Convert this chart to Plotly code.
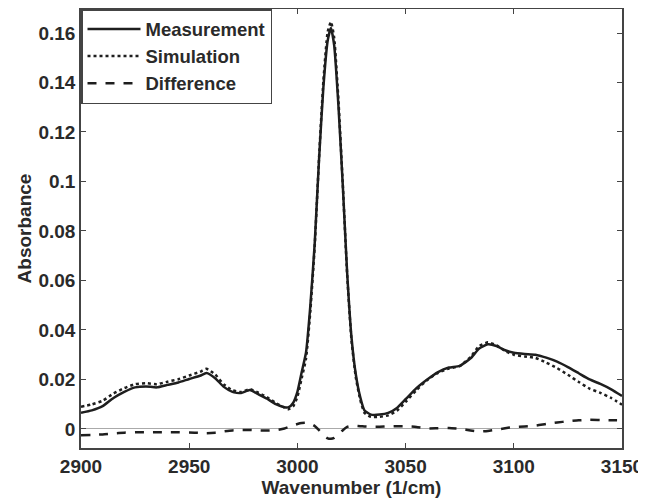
"""FTIR absorbance: measured vs simulated spectrum and their difference."""

import plotly.graph_objects as go

# wavenumber grid (1/cm)
wavenumber = [2900, 2905, 2910, 2915, 2920, 2925, 2930, 2935, 2940, 2945, 2950, 2955, 2958,
              2962, 2966, 2970, 2974, 2978, 2982, 2986, 2990, 2994, 2996, 2998, 3000, 3002,
              3004, 3006, 3008, 3010, 3012, 3014, 3015.5, 3017, 3019, 3021, 3023, 3025, 3027,
              3029, 3031, 3034, 3038, 3042, 3046, 3050, 3055, 3060, 3065, 3070, 3075, 3080,
              3084, 3088, 3092, 3096, 3100, 3105, 3110, 3115, 3120, 3125, 3130, 3135, 3140,
              3145, 3150]

measurement = [0.0065, 0.0075, 0.0092, 0.0125, 0.0150, 0.0168, 0.0172, 0.0168, 0.0178, 0.0188,
               0.0202, 0.0215, 0.0226, 0.0205, 0.0170, 0.0150, 0.0145, 0.0157, 0.0140, 0.0122,
               0.0100, 0.0088, 0.0088, 0.0105, 0.0150, 0.0230, 0.0310, 0.050, 0.075, 0.109,
               0.138, 0.157, 0.162, 0.155, 0.130, 0.098, 0.063, 0.037, 0.022, 0.013, 0.0075,
               0.0058, 0.0058, 0.0065, 0.0085, 0.0120, 0.0165, 0.0200, 0.0230, 0.0248, 0.0255,
               0.0285, 0.0325, 0.0342, 0.0335, 0.0318, 0.0308, 0.0303, 0.0300, 0.0288, 0.0272,
               0.0250, 0.0225, 0.0200, 0.0182, 0.0160, 0.0133]

simulation = [0.0090, 0.0099, 0.0114, 0.0143, 0.0165, 0.0181, 0.0185, 0.0181, 0.0191, 0.0201,
              0.0216, 0.0231, 0.0243, 0.0220, 0.0180, 0.0156, 0.0149, 0.0161, 0.0146, 0.0128,
              0.0105, 0.0086, 0.0080, 0.0091, 0.0130, 0.0206, 0.0285, 0.0478, 0.0738, 0.1095,
              0.1405, 0.1605, 0.1645, 0.1580, 0.1322, 0.0985, 0.0622, 0.0358, 0.0208, 0.0119,
              0.0065, 0.0049, 0.0049, 0.0055, 0.0074, 0.0109, 0.0157, 0.0198, 0.0227, 0.0244,
              0.0254, 0.0291, 0.0335, 0.0350, 0.0338, 0.0315, 0.0300, 0.0293, 0.0287, 0.0268,
              0.0246, 0.0219, 0.0190, 0.0163, 0.0146, 0.0125, 0.0098]

difference = [-0.0025, -0.0024, -0.0022, -0.0018, -0.0015, -0.0013, -0.0013, -0.0013, -0.0013,
              -0.0013, -0.0014, -0.0016, -0.0017, -0.0015, -0.0010, -0.0006, -0.0004, -0.0004,
              -0.0006, -0.0006, -0.0005, 0.0002, 0.0008, 0.0014, 0.0020, 0.0024, 0.0025, 0.0022,
              0.0012, -0.0005, -0.0025, -0.0038, -0.0040, -0.0036, -0.0022, -0.0005, 0.0008,
              0.0012, 0.0012, 0.0011, 0.0010, 0.0009, 0.0009, 0.0010, 0.0011, 0.0011, 0.0008,
              0.0002, 0.0003, 0.0004, 0.0001, -0.0006, -0.0010, -0.0008, -0.0003, 0.0003, 0.0008,
              0.0010, 0.0013, 0.0020, 0.0026, 0.0031, 0.0035, 0.0037, 0.0036, 0.0035, 0.0035]

x_ticks = [2900, 2950, 3000, 3050, 3100, 3150]
y_ticks = [0, 0.02, 0.04, 0.06, 0.08, 0.1, 0.12, 0.14, 0.16]
y_tick_text = ["0", "0.02", "0.04", "0.06", "0.08", "0.1", "0.12", "0.14", "0.16"]

INK = "#1e1e1e"
FONT = dict(family="Liberation Sans, Arial, sans-serif", size=19, color="#2a2a2a", weight="bold")
LEGEND_FONT = dict(FONT, size=18.5)

fig = go.Figure()
series = [
    ("Measurement", measurement, "solid"),
    ("Simulation", simulation, "dot"),
    ("Difference", difference, "dash"),
]
for name, values, dash in series:
    fig.add_trace(go.Scatter(
        x=wavenumber, y=values, name=name, mode="lines",
        line=dict(color=INK, width=2.5, dash=dash, shape="spline", smoothing=0.5),
    ))

axis_common = dict(
    showline=True, linecolor="#444", linewidth=1.5, mirror="ticks",
    ticks="inside", ticklen=5, tickcolor="#444", tickwidth=1,
    showgrid=False, tickfont=FONT, automargin=False,
)

# the page body adds an 8px offset at top/left, so the figure is 8px smaller
# and the left/top margins are trimmed to keep the plot area in place
fig.update_layout(
    width=638, height=491,
    margin=dict(l=73, r=24, t=1, b=51),
    paper_bgcolor="white", plot_bgcolor="white",
    font=FONT,
    xaxis=dict(range=[2900, 3150], tickvals=x_ticks, zeroline=False,
               title=dict(text="Wavenumber (1/cm)", font=FONT, standoff=4),
               **axis_common),
    yaxis=dict(range=[-0.0077, 0.1697], tickvals=y_ticks, ticktext=y_tick_text,
               zeroline=True, zerolinecolor="#aaaaaa", zerolinewidth=1,
               title=dict(text="Absorbance", font=FONT, standoff=2),
               **axis_common),
    legend=dict(x=0, y=1.0, xanchor="left", yanchor="top",
                bgcolor="white", bordercolor="#444", borderwidth=1.5,
                font=LEGEND_FONT, itemwidth=53, tracegroupgap=0),
    showlegend=True,
)

fig.write_html("out.html")
